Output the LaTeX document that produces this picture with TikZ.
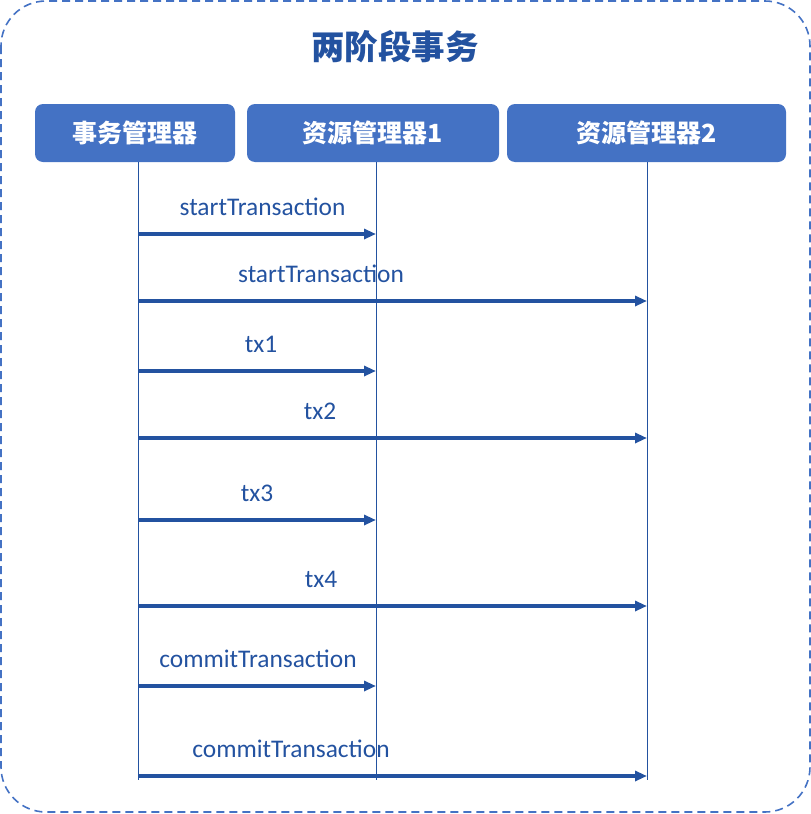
\documentclass[tikz,border=0pt]{standalone}
\usepackage{fontspec}
\setmainfont{Carlito}
\newfontfamily\cjk{Noto Sans CJK SC}
\usetikzlibrary{arrows.meta}
\definecolor{boxblue}{HTML}{4472C4}
\definecolor{dark}{HTML}{2352A0}
\tikzset{
  hdr/.style={fill=boxblue, rounded corners=8pt, inner sep=0pt, text=white,
    font=\cjk\bfseries\fontsize{25}{25}\selectfont},
  life/.style={draw=dark, line width=1pt},
  msg/.style={draw=dark, line width=3.2pt, -{Triangle[length=12pt,width=10pt]}},
  lbl/.style={anchor=base, text=dark, font=\fontsize{25.4}{25.4}\selectfont, inner sep=0pt},
}
\begin{document}
\begin{tikzpicture}[x=1pt,y=-1pt]
\useasboundingbox (0,0) rectangle (811,814);
\draw[boxblue, line width=1.6pt, dash pattern=on 8pt off 5pt, rounded corners=45pt] (1,1) rectangle (810,812);
\node[text=dark, font=\cjk\bfseries\fontsize{33.5}{33.5}\selectfont] (title) at (395,47) {两阶段事务};
\node[hdr, minimum width=200pt, minimum height=58pt] (tm) at (135,133) {事务管理器};
\node[hdr, minimum width=252pt, minimum height=58pt] (rm1) at (373,133) {资源管理器1};
\node[hdr, minimum width=279pt, minimum height=58pt] (rm2) at (646.5,133) {资源管理器2};
\coordinate (l0t) at (138,162); \coordinate (l0b) at (138,780);
\coordinate (l1t) at (376,162); \coordinate (l1b) at (376,780);
\coordinate (l2t) at (647,162); \coordinate (l2b) at (647,780);
\draw[life] (l0t) -- (l0b);
\draw[life] (l1t) -- (l1b);
\draw[life] (l2t) -- (l2b);
\foreach \n/\y/\t/\lx/\txt in {
  a/234/1/262.5/startTransaction,
  b/301/2/321/startTransaction,
  c/371/1/261/tx1,
  d/438/2/320/tx2,
  e/520/1/257/tx3,
  f/606/2/321/tx4,
  g/686/1/258/commitTransaction,
  h/776/2/291/commitTransaction}{
  \coordinate (\n s) at (l0t |- 0,\y);
  \coordinate (\n e) at (l\t t |- 0,\y);
  \draw[msg] (\n s) -- (\n e);
  \node[lbl] (\n l) at (\lx,\y-19) {\txt};
}
\end{tikzpicture}
\end{document}
